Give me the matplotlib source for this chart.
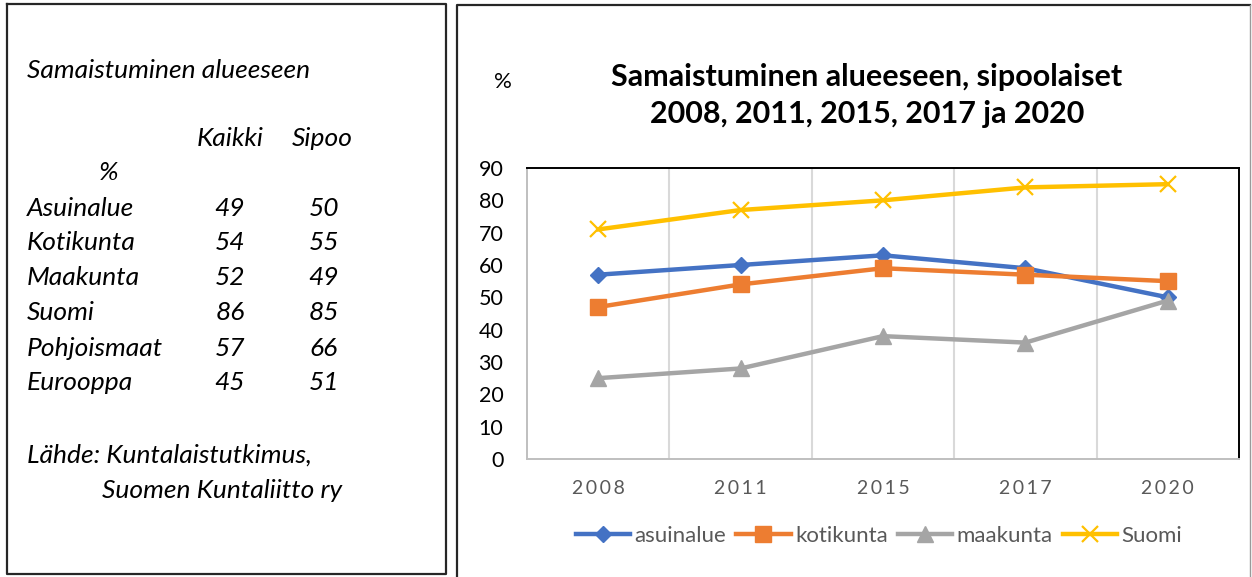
import matplotlib
matplotlib.use("Agg")
import matplotlib.pyplot as plt
from matplotlib.lines import Line2D

plt.rcParams["font.family"] = ["Lato", "DejaVu Sans"]

# chart data
years = ["2008", "2011", "2015", "2017", "2020"]
asuinalue = [57, 60, 63, 59, 50]
kotikunta = [47, 54, 59, 57, 55]
maakunta = [25, 28, 38, 36, 49]
suomi = [71, 77, 80, 84, 85]

# table in the left box
table_rows = ["Asuinalue", "Kotikunta", "Maakunta", "Suomi", "Pohjoismaat", "Eurooppa"]
kaikki = [49, 54, 52, 86, 57, 45]
sipoo = [50, 55, 49, 85, 66, 51]

W, H = 1252, 577
fig = plt.figure(figsize=(W / 100, H / 100), dpi=100)


def fx(px):
    return px / W


def fy(py):
    return 1 - py / H


# boxes
box_col = "#262626"
fig.add_artist(Line2D([fx(7), fx(446), fx(446), fx(7), fx(7)],
                      [fy(4), fy(4), fy(574), fy(574), fy(4)], color=box_col, lw=1.6))
fig.add_artist(Line2D([fx(457), fx(457), fx(1250)], [fy(580), fy(5), fy(5)], color=box_col, lw=1.6))
fig.add_artist(Line2D([fx(1250), fx(1250)], [fy(5), fy(580)], color="#9a9a9a", lw=1.0))

# left box text
tfs = 19
fig.text(fx(27), fy(70), "Samaistuminen alueeseen", style="italic", fontsize=tfs, va="center")
fig.text(fx(230), fy(138), "Kaikki", style="italic", fontsize=tfs, va="center", ha="center")
fig.text(fx(322), fy(138), "Sipoo", style="italic", fontsize=tfs, va="center", ha="center")
fig.text(fx(109), fy(173), "%", style="italic", fontsize=tfs, va="center", ha="center")
for i, name in enumerate(table_rows):
    y = fy(208 + 35 * i)
    fig.text(fx(27), y, name, style="italic", fontsize=tfs, va="center")
    fig.text(fx(230), y, str(kaikki[i]), style="italic", fontsize=tfs, va="center", ha="center")
    fig.text(fx(324), y, str(sipoo[i]), style="italic", fontsize=tfs, va="center", ha="center")
fig.text(fx(27), fy(455), "Lähde: Kuntalaistutkimus,", style="italic", fontsize=tfs, va="center")
fig.text(fx(102), fy(490), "Suomen Kuntaliitto ry", style="italic", fontsize=tfs, va="center")

# chart
ax = fig.add_axes([fx(527), fy(459), fx(1239) - fx(527), fy(168) - fy(459)])
x = range(len(years))
ax.plot(x, asuinalue, color="#4472C4", lw=3.2, marker="D", ms=8, label="asuinalue")
ax.plot(x, kotikunta, color="#ED7D31", lw=3.2, marker="s", ms=11, label="kotikunta")
ax.plot(x, maakunta, color="#A5A5A5", lw=3.2, marker="^", ms=11, label="maakunta")
ax.plot(x, suomi, color="#FFC000", lw=3.2, marker="x", ms=11, mew=1.6, label="Suomi")

ax.set_xlim(-0.5, len(years) - 0.5)
ax.set_ylim(0, 90)
ax.set_yticks(range(0, 91, 10))
ax.set_xticks(list(x))
ax.set_xticklabels(["\u2009".join(y) for y in years], color="#595959", fontsize=14)
ax.set_xticks([i + 0.5 for i in range(len(years) - 1)], minor=True)
ax.grid(True, which="minor", axis="x", color="#D9D9D9", lw=1.5)
ax.tick_params(axis="both", which="both", length=0)
ax.tick_params(axis="y", pad=17, labelsize=15.5, labelcolor="#000000")
ax.tick_params(axis="x", pad=15)
for s in ["top", "right"]:
    ax.spines[s].set_color("#000000")
    ax.spines[s].set_linewidth(1.4)
for s in ["left", "bottom"]:
    ax.spines[s].set_color("#BFBFBF")
    ax.spines[s].set_linewidth(1.4)

fig.text(fx(867), fy(77), "Samaistuminen alueeseen, sipoolaiset",
         fontsize=22, fontweight="bold", ha="center", va="center")
fig.text(fx(867), fy(114), "2008, 2011, 2015, 2017 ja 2020",
         fontsize=22, fontweight="bold", ha="center", va="center")
fig.text(fx(503), fy(82), "%", fontsize=16, ha="center", va="center")

leg = fig.legend(loc="center", bbox_to_anchor=(fx(879), fy(536)), ncol=4, frameon=False,
                 fontsize=16, handlelength=2.45, handletextpad=0.2, columnspacing=0.45,
                 labelcolor="#595959")

fig.savefig("out.png", dpi=100)
